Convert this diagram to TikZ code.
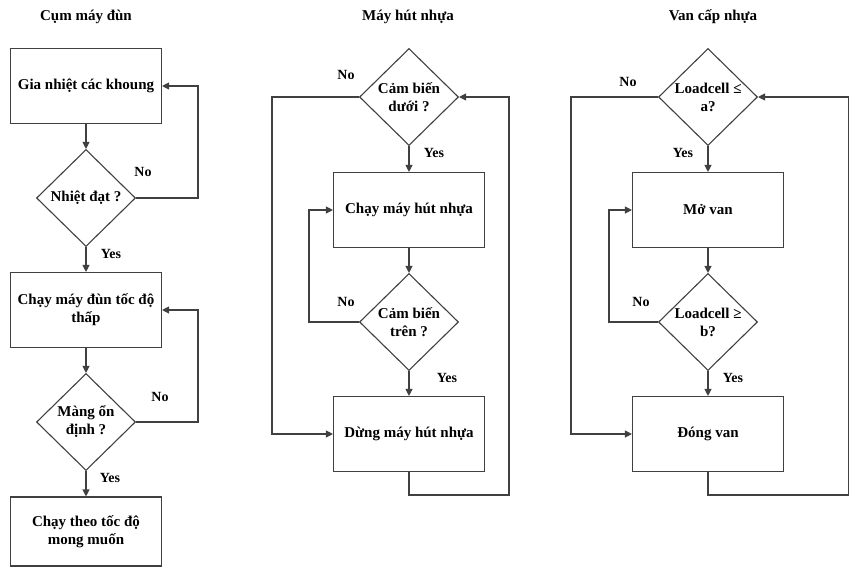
\documentclass[tikz,border=0pt]{standalone}
\usepackage{fontspec}
\setmainfont{Liberation Serif}
\usetikzlibrary{shapes.geometric,arrows.meta}
\begin{document}
\begin{tikzpicture}[x=1pt,y=-1pt,
  line/.style={draw=black!75,line width=1.1pt},
  arr/.style={line,-{Triangle[length=7pt,width=7pt]}},
  box/.style={line,rectangle,minimum width=151pt,minimum height=75pt,inner sep=0pt,
    align=center,font=\bfseries\fontsize{15}{18}\selectfont},
  dec/.style={line,diamond,minimum width=99pt,minimum height=97pt,inner sep=0pt},
  dtext/.style={align=center,inner sep=0pt,font=\bfseries\fontsize{15}{18}\selectfont},
  ttl/.style={font=\bfseries\fontsize{15}{17}\selectfont},
  lbl/.style={font=\bfseries\fontsize{14}{16}\selectfont,inner sep=0pt}]
\useasboundingbox (0,0) rectangle (849,571);
% titles
\node[ttl] (t1) at (86,17) {Cụm máy đùn};
\node[ttl] (t2) at (408,17) {Máy hút nhựa};
\node[ttl] (t3) at (713,17) {Van cấp nhựa};
% column 1
\node[box] (b1) at (86,86) {Gia nhiệt các khoung};
\node[dec,label={[dtext]center:Nhiệt đạt ?}] (d1) at (86,198) {};
\node[box] (b2) at (86,310) {Chạy máy đùn tốc độ\\thấp};
\node[dec,label={[dtext]center:Màng ổn\\định ?}] (d2) at (86,422) {};
\node[box,minimum height=69pt] (b3) at (86,531.5) {Chạy theo tốc độ\\mong muốn};
\draw[arr] (b1.south) -- (d1.north);
\draw[arr] (d1.south) -- (b2.north);
\draw[arr] (b2.south) -- (d2.north);
\draw[arr] (d2.south) -- (b3.north);
\coordinate (c1) at (198,198);
\coordinate (c2) at (198,86);
\draw[arr] (d1.east) -- (c1) -- (c2) -- (b1.east);
\coordinate (c3) at (198,422);
\coordinate (c4) at (198,310);
\draw[arr] (d2.east) -- (c3) -- (c4) -- (b2.east);
\node[lbl] (n1) at (143,172) {No};
\node[lbl] (y1) at (111,254) {Yes};
\node[lbl] (n2) at (160,397) {No};
\node[lbl] (y2) at (110,478) {Yes};
% column 2
\node[dec,label={[dtext]center:Cảm biến\\dưới ?}] (d3) at (409,97) {};
\node[box] (b4) at (409,210) {Chạy máy hút nhựa};
\node[dec,label={[dtext]center:Cảm biến\\trên ?}] (d4) at (409,322) {};
\node[box] (b5) at (409,434) {Dừng máy hút nhựa};
\draw[arr] (d3.south) -- (b4.north);
\draw[arr] (b4.south) -- (d4.north);
\draw[arr] (d4.south) -- (b5.north);
\coordinate (e1) at (272,97);
\coordinate (e2) at (272,434);
\draw[arr] (d3.west) -- (e1) -- (e2) -- (b5.west);
\coordinate (e3) at (309,322);
\coordinate (e4) at (309,210);
\draw[arr] (d4.west) -- (e3) -- (e4) -- (b4.west);
\coordinate (e5) at (409,495);
\coordinate (e6) at (509,495);
\coordinate (e7) at (509,97);
\draw[arr] (b5.south) -- (e5) -- (e6) -- (e7) -- (d3.east);
\node[lbl] (n3) at (346,75) {No};
\node[lbl] (y3) at (434,153) {Yes};
\node[lbl] (n4) at (346,302) {No};
\node[lbl] (y4) at (447,378) {Yes};
% column 3
\node[dec,label={[dtext]center:Loadcell ≤\\a?}] (d5) at (708,97) {};
\node[box] (b6) at (708,210) {Mở van};
\node[dec,label={[dtext]center:Loadcell ≥\\b?}] (d6) at (708,322) {};
\node[box] (b7) at (708,434) {Đóng van};
\draw[arr] (d5.south) -- (b6.north);
\draw[arr] (b6.south) -- (d6.north);
\draw[arr] (d6.south) -- (b7.north);
\coordinate (f1) at (571,97);
\coordinate (f2) at (571,434);
\draw[arr] (d5.west) -- (f1) -- (f2) -- (b7.west);
\coordinate (f3) at (609,322);
\coordinate (f4) at (609,210);
\draw[arr] (d6.west) -- (f3) -- (f4) -- (b6.west);
\coordinate (f5) at (708,495);
\coordinate (f6) at (849,495);
\coordinate (f7) at (849,97);
\draw[arr] (b7.south) -- (f5) -- (f6) -- (f7) -- (d5.east);
\node[lbl] (n5) at (628,82) {No};
\node[lbl] (y5) at (683,153) {Yes};
\node[lbl] (n6) at (641,302) {No};
\node[lbl] (y6) at (733,378) {Yes};
\end{tikzpicture}
\end{document}
